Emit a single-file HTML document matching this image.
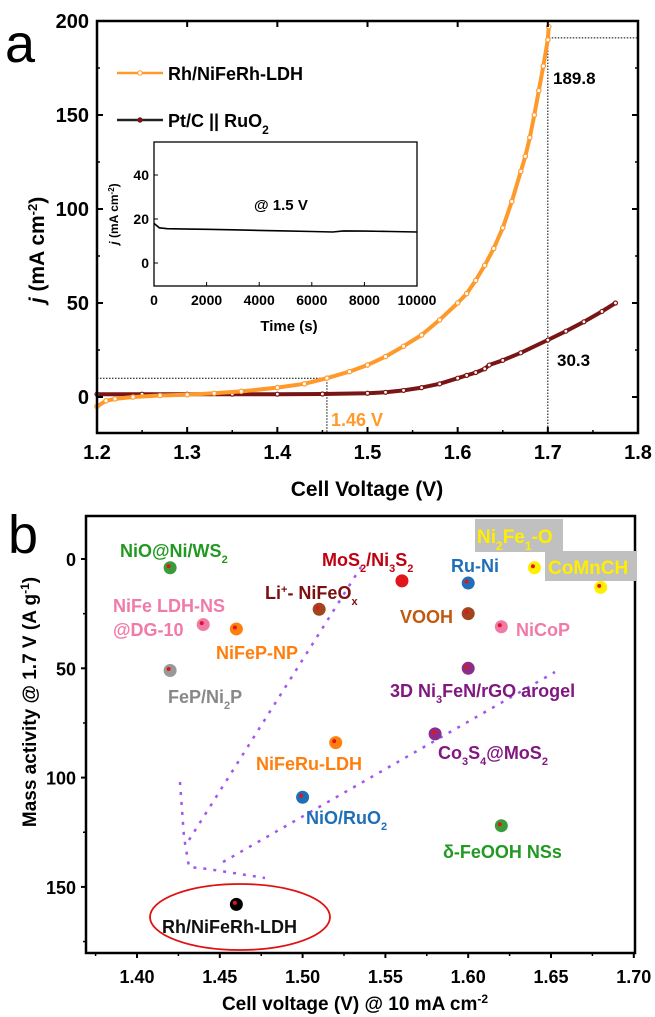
<!DOCTYPE html>
<html><head><meta charset="utf-8"><style>
html,body{margin:0;padding:0;background:#fff;}
svg{display:block;font-family:"Liberation Sans",Arial,sans-serif;font-weight:bold;}
</style></head><body>
<svg id="fig" width="655" height="1017" viewBox="0 0 655 1017" xmlns="http://www.w3.org/2000/svg">
<g id="pa"></g>
<g id="pb"></g>
</svg>
<script>
// ---- Panel a data ----
const orangeV = [1.2,1.21,1.22,1.24,1.27,1.3,1.33,1.36,1.4,1.43,1.455,1.48,1.5,1.52,1.54,1.56,1.58,1.6,1.61,1.62,1.63,1.64,1.65,1.66,1.67,1.675,1.68,1.685,1.69,1.695,1.7,1.701];
const orangeJ = [-5,-2,-1,0,0.8,1.2,2,3,5,7,10,13.5,17,21.5,27,33,41,50,55,62,70,79,90,104,120,128,138,150,163,176,190,197];
const redV = [1.2,1.25,1.3,1.35,1.4,1.45,1.5,1.52,1.54,1.56,1.58,1.6,1.61,1.62,1.63,1.635,1.65,1.67,1.7,1.72,1.74,1.76,1.775];
const redJ = [1.5,1.5,1.5,1.5,1.5,1.6,2,2.5,3.5,5,7,10,11.5,13,15,17,19.5,23.5,30.3,35,40,45.5,50];
const xTicksA = [1.2,1.3,1.4,1.5,1.6,1.7,1.8];
const yTicksA = [0,50,100,150,200];
const insetT = [0,200,500,1000,2000,3000,4000,5000,6000,6800,7200,8000,9000,10000];
const insetJ = [18,16,15.6,15.5,15.3,15.1,14.8,14.6,14.3,14.1,14.6,14.5,14.3,14.1];
const insetXTicks = [0,2000,4000,6000,8000,10000];
const insetYTicks = [0,20,40];
// ---- Panel b data ----
const bLabels = ["NiO@Ni/WS2","MoS2/Ni3S2","Ru-Ni","Ni2Fe1-O","CoMnCH","Li+-NiFeOx","VOOH","NiFe LDH-NS","NiFeP-NP","NiCoP","FeP/Ni2P","3D Ni3FeN","Co3S4@MoS2","NiFeRu-LDH","NiO/RuO2","d-FeOOH","Rh/NiFeRh-LDH"];
const bVolt = [1.42,1.56,1.60,1.64,1.68,1.51,1.60,1.44,1.46,1.62,1.42,1.60,1.58,1.52,1.50,1.62,1.46];
const bAct = [4,10,11,4,13,23,25,30,32,31,51,50,80,84,109,122,158];
const bColors = ["#3a9b3a","#e0161c","#1f6fb8","#ffee00","#ffee00","#a0461e","#a0461e","#f07aa8","#ff7f0e","#f07aa8","#999999","#8a2e8a","#8a2e8a","#ff7f0e","#1f6fb8","#3a9b3a","#000000"];
const xTicksB = [1.40,1.45,1.50,1.55,1.60,1.65,1.70];
const yTicksB = [0,50,100,150];

const NS="http://www.w3.org/2000/svg";
function mk(parent,tag,attrs,text){const e=document.createElementNS(NS,tag);for(const k in attrs)e.setAttribute(k,attrs[k]);if(text!==undefined)e.innerHTML=text;parent.appendChild(e);return e;}

// ===== Panel A =====
const A=document.getElementById('pa');
const ax={l:97,r:638,t:21,b:433};
function xa(v){return ax.l+(v-1.2)/0.6*(ax.r-ax.l);}
function ya(v){return 397-v*1.88;}
let t;
t=mk(A,'text',{x:5,y:62,'font-size':54,'font-weight':'normal'},'a');

let g;
g=mk(A,'path',{d:`M${ax.l} ${ya(10)}H${xa(1.455)}V${ax.b}M${xa(1.7)} ${ax.b}V${ya(191)}H${ax.r}`,fill:'none',stroke:'#000','stroke-width':1,'stroke-dasharray':'1.5,1.5'});

function series(V,J,col,name,msize){
  const grp=mk(A,'g',{});
  
  const d=V.map((v,i)=>(i?'L':'M')+xa(v).toFixed(1)+' '+ya(J[i]).toFixed(1)).join('');
  mk(grp,'path',{d:d,fill:'none',stroke:col,'stroke-width':4,'stroke-linejoin':'round'});
  V.forEach((v,i)=>{const c=mk(grp,'circle',{cx:xa(v),cy:ya(J[i]),r:msize,fill:'#fff',stroke:col,'stroke-width':1.2});
    });
}
series(redV,redJ,'#7a1515','series-pt-ruo2',2);
series(orangeV,orangeJ,'#ff9a2a','series-rh-nifeRh-ldh',2.2);
g=mk(A,'rect',{x:ax.l,y:ax.t,width:ax.r-ax.l,height:ax.b-ax.t,fill:'none',stroke:'#000','stroke-width':2.5});

xTicksA.forEach((v,i)=>{const x=xa(v);
  mk(A,'line',{x1:x,y1:ax.b,x2:x,y2:ax.b-6,stroke:'#000','stroke-width':2});
  mk(A,'line',{x1:x,y1:ax.t,x2:x,y2:ax.t+6,stroke:'#000','stroke-width':2});
  if(i<xTicksA.length-1){const xm=xa(v+0.05);mk(A,'line',{x1:xm,y1:ax.b,x2:xm,y2:ax.b-3,stroke:'#000','stroke-width':1.5});}
  const l=mk(A,'text',{x:x,y:ax.b+26,'text-anchor':'middle','font-size':20},v.toFixed(1));
  });
yTicksA.forEach((v,i)=>{const y=ya(v);
  mk(A,'line',{x1:ax.l,y1:y,x2:ax.l+6,y2:y,stroke:'#000','stroke-width':2});
  mk(A,'line',{x1:ax.r,y1:y,x2:ax.r-6,y2:y,stroke:'#000','stroke-width':2});
  const ym=ya(v+25);if(v<200){mk(A,'line',{x1:ax.l,y1:ym,x2:ax.l+3,y2:ym,stroke:'#000','stroke-width':1.5});mk(A,'line',{x1:ax.r,y1:ym,x2:ax.r-3,y2:ym,stroke:'#000','stroke-width':1.5});}
  const l=mk(A,'text',{x:ax.l-8,y:y+7,'text-anchor':'end','font-size':20},v);
  });
t=mk(A,'text',{x:367,y:496,'text-anchor':'middle','font-size':21},'Cell Voltage (V)');

t=mk(A,'text',{transform:'translate(44,250) rotate(-90)','text-anchor':'middle','font-size':21},'<tspan font-style="italic">j</tspan> (mA cm<tspan baseline-shift="super" font-size="13">-2</tspan>)');

g=mk(A,'g',{});
mk(g,'line',{x1:117,y1:73,x2:163,y2:73,stroke:'#ff9a2a','stroke-width':2.5});
mk(g,'circle',{cx:140,cy:73,r:2.2,fill:'#fff',stroke:'#ff9a2a'});
mk(g,'text',{x:168,y:80,'font-size':18},'Rh/NiFeRh-LDH');
mk(g,'line',{x1:117,y1:120,x2:163,y2:120,stroke:'#222','stroke-width':2.5});
mk(g,'circle',{cx:140,cy:120,r:2.2,fill:'#7a1515',stroke:'#7a1515'});
mk(g,'text',{x:168,y:127,'font-size':18},'Pt/C || RuO<tspan baseline-shift="sub" font-size="12">2</tspan>');
t=mk(A,'text',{x:553,y:84,'font-size':17},'189.8');
t=mk(A,'text',{x:557,y:366,'font-size':17},'30.3');
t=mk(A,'text',{x:331,y:426,'font-size':18,fill:'#ff9a2a'},'1.46 V');
const I=mk(A,'g',{});
const ins={l:154,r:417,t:142,b:286};
function xi(v){return ins.l+v/10000*(ins.r-ins.l);}
function yi(v){return 263-v*2.2;}
mk(I,'rect',{x:ins.l,y:ins.t,width:ins.r-ins.l,height:ins.b-ins.t,fill:'#fff',stroke:'#000','stroke-width':1.3});
g=mk(I,'path',{d:insetT.map((v,i)=>(i?'L':'M')+xi(v).toFixed(1)+' '+yi(insetJ[i]).toFixed(1)).join(''),fill:'none',stroke:'#000','stroke-width':1.6});

insetXTicks.forEach(v=>{const x=xi(v);mk(I,'line',{x1:x,y1:ins.b,x2:x,y2:ins.b-4,stroke:'#000'});
  const l=mk(I,'text',{x:x,y:ins.b+19,'text-anchor':'middle','font-size':14},v);
  });
insetYTicks.forEach(v=>{const y=yi(v);mk(I,'line',{x1:ins.l,y1:y,x2:ins.l+4,y2:y,stroke:'#000'});
  const l=mk(I,'text',{x:ins.l-5,y:y+5,'text-anchor':'end','font-size':14},v);
  });
mk(I,'text',{x:289,y:331,'text-anchor':'middle','font-size':15},'Time (s)');
mk(I,'text',{transform:'translate(118,214) rotate(-90)','text-anchor':'middle','font-size':12},'<tspan font-style="italic">j</tspan> (mA cm<tspan baseline-shift="super" font-size="8">-2</tspan>)');
mk(I,'text',{x:254,y:210,'font-size':15},'@ 1.5 V');

// ===== Panel B =====
const B=document.getElementById('pb');
const bx={l:86,r:635,t:516,b:953};
function xb(v){return 137+(v-1.40)/0.05*82.8;}
function yb(v){return 559+v*2.186;}
t=mk(B,'text',{x:8,y:553,'font-size':54,'font-weight':'normal'},'b');

g=mk(B,'rect',{x:bx.l,y:bx.t,width:bx.r-bx.l,height:bx.b-bx.t,fill:'none',stroke:'#000','stroke-width':2.5});

xTicksB.forEach(v=>{const x=xb(v);
  mk(B,'line',{x1:x,y1:bx.b,x2:x,y2:bx.b+5,stroke:'#000','stroke-width':2});
  const xm=xb(v-0.025);mk(B,'line',{x1:xm,y1:bx.b,x2:xm,y2:bx.b+3,stroke:'#000','stroke-width':1.5});
  const l=mk(B,'text',{x:x,y:bx.b+30,'text-anchor':'middle','font-size':18},v.toFixed(2));
  });
yTicksB.forEach(v=>{const y=yb(v);
  mk(B,'line',{x1:bx.l,y1:y,x2:bx.l-5,y2:y,stroke:'#000','stroke-width':2});
  const ym=yb(v+25);mk(B,'line',{x1:bx.l,y1:ym,x2:bx.l-3,y2:ym,stroke:'#000','stroke-width':1.5});
  const l=mk(B,'text',{x:bx.l-10,y:y+7,'text-anchor':'end','font-size':18},v);
  });
t=mk(B,'text',{x:355,y:1010,'text-anchor':'middle','font-size':19},'Cell voltage (V) @ 10 mA cm<tspan baseline-shift="super" font-size="12">-2</tspan>');

t=mk(B,'text',{transform:'translate(36,702) rotate(-90)','text-anchor':'middle','font-size':19},'Mass activity @ 1.7 V (A g<tspan baseline-shift="super" font-size="12">-1</tspan>)');

g=mk(B,'path',{d:'M180 782 L184 837 L189 867 L208 869 L265 878 M189 840 L361 567 M223 862 L555 672',fill:'none',stroke:'#a056f0','stroke-width':2.5,'stroke-dasharray':'3,7'});

g=mk(B,'ellipse',{cx:240,cy:917,rx:90,ry:33,fill:'none',stroke:'#e01010','stroke-width':1.8});

mk(B,'rect',{x:475,y:519,width:88,height:33,fill:'#c0c0c0'});
mk(B,'rect',{x:545,y:551,width:92,height:30,fill:'#c0c0c0'});
bVolt.forEach((v,i)=>{const c=mk(B,'circle',{cx:xb(v),cy:yb(bAct[i]),r:6.5,fill:bColors[i]});
  
  
  mk(B,'circle',{cx:xb(v)-1.5,cy:yb(bAct[i])-1.5,r:2,fill:'#e0161c'});});
const labs=[
 [120,557,'#229922',18,'NiO@Ni/WS<tspan baseline-shift="sub" font-size="11">2</tspan>'],
 [322,566,'#c00010',18,'MoS<tspan baseline-shift="sub" font-size="11">2</tspan>/Ni<tspan baseline-shift="sub" font-size="11">3</tspan>S<tspan baseline-shift="sub" font-size="11">2</tspan>'],
 [451,572,'#1f6fb8',18,'Ru-Ni'],
 [477,543,'#ffee00',19,'Ni<tspan baseline-shift="sub" font-size="12">2</tspan>Fe<tspan baseline-shift="sub" font-size="12">1</tspan>-O'],
 [548,574,'#ffee00',19,'CoMnCH'],
 [265,599,'#7a1010',18,'Li<tspan baseline-shift="super" font-size="11">+</tspan>- NiFeO<tspan baseline-shift="sub" font-size="11">x</tspan>'],
 [400,623,'#c05a10',18,'VOOH'],
 [113,612,'#f07aa8',18,'NiFe LDH-NS'],
 [113,636,'#f07aa8',18,'@DG-10'],
 [216,659,'#ff7f0e',18,'NiFeP-NP'],
 [516,636,'#f07aa8',18,'NiCoP'],
 [168,703,'#888888',18,'FeP/Ni<tspan baseline-shift="sub" font-size="11">2</tspan>P'],
 [390,697,'#801880',18,'3D Ni<tspan baseline-shift="sub" font-size="11">3</tspan>FeN/rGO arogel'],
 [438,759,'#801880',18,'Co<tspan baseline-shift="sub" font-size="11">3</tspan>S<tspan baseline-shift="sub" font-size="11">4</tspan>@MoS<tspan baseline-shift="sub" font-size="11">2</tspan>'],
 [256,770,'#ff7f0e',18,'NiFeRu-LDH'],
 [306,824,'#1f6fb8',18,'NiO/RuO<tspan baseline-shift="sub" font-size="11">2</tspan>'],
 [443,858,'#229922',18,'δ-FeOOH NSs'],
 [162,933,'#111111',18,'Rh/NiFeRh-LDH']];
labs.forEach(L=>{const e=mk(B,'text',{x:L[0],y:L[1],fill:L[2],'font-size':L[3]},L[4]);
  });
</script>
</body></html>
